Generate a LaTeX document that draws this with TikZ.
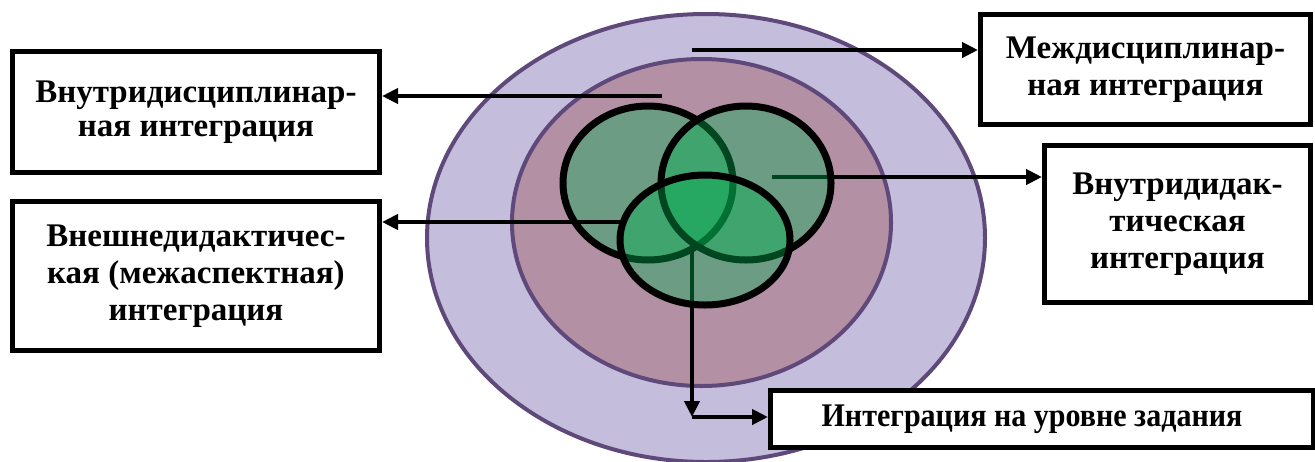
\documentclass[tikz,border=0pt]{standalone}
\usepackage{fontspec}
\setmainfont{Liberation Serif}
\usetikzlibrary{arrows.meta}

\definecolor{lilac}{RGB}{196,189,220}
\definecolor{plum}{RGB}{95,73,122}
\definecolor{mauve}{RGB}{180,144,165}
\definecolor{leaf}{RGB}{0,176,80}

\tikzset{
    kind/.style={draw=black, line width=2.5pt, fill=white, align=center, inner sep=0pt,
        font=\bfseries\fontsize{16.5}{18.5}\selectfont},
    link/.style={line width=2pt, -{Triangle[length=8pt,width=7.5pt]}},
    venn/.style={draw=black, line width=3.5pt, fill=leaf, fill opacity=0.4}
}

\begin{document}
\begin{tikzpicture}[x=0.5pt, y=-0.5pt] %px
            \useasboundingbox (0,0) rectangle (1315,461);

            \filldraw[fill=lilac, draw=plum, line width=2pt] (706,238) ellipse [x radius=279, y radius=224];
            \filldraw[fill=mauve, draw=plum, line width=2pt] (701.5,222.5) ellipse [x radius=189.5, y radius=163.5];

            \node[kind, minimum width=183.5pt, minimum height=60.5pt, font=\bfseries\fontsize{16.5}{17}\selectfont] (intra) at (196,112) {Внутридисциплинар-\\ная интеграция};
            \node[kind, minimum width=183.5pt, minimum height=74.5pt] (extra) at (196,276) {Внешнедидактичес-\\кая (межаспектная)\\интеграция};
            \node[kind, minimum width=165pt, minimum height=55pt] (inter) at (1145.5,69.5) {Междисциплинар-\\ная интеграция};
            \node[kind, minimum width=133pt, minimum height=78.5pt] (didact) at (1177.5,224) {Внутридидак-\\тическая\\интеграция};
            \node[kind, minimum width=271.5pt, minimum height=28.5pt, font=\bfseries\fontsize{16.5}{18.5}\selectfont\addfontfeature{FakeStretch=0.91}] (task) at (1042,419) {Интеграция на уровне задания\hspace*{10pt}};

            \coordinate (pIntra) at (662,96);
            \coordinate (pInter) at (692,50);
            \coordinate (pDidact) at (772,177);
            \coordinate (pExtra) at (620,222);
            \coordinate (pTask) at (692,245);
            \coordinate (turn) at (692,417);

            \draw[link] (pIntra) -- (pIntra -| intra.east);
            \draw[link] (pInter) -- (pInter -| inter.west);
            \draw[link] (pDidact) -- (pDidact -| didact.west);

            \filldraw[venn] (648,183) ellipse [x radius=85, y radius=77];
            \draw[link] (pExtra) -- (pExtra -| extra.east);
            \filldraw[venn] (746,183) ellipse [x radius=85, y radius=77];
            \draw[link] (pTask) -- (turn);
            \draw[link] (turn) -- (turn -| task.west);
            \filldraw[venn] (705,240) ellipse [x radius=85, y radius=65];
        \end{tikzpicture}
\end{document}
